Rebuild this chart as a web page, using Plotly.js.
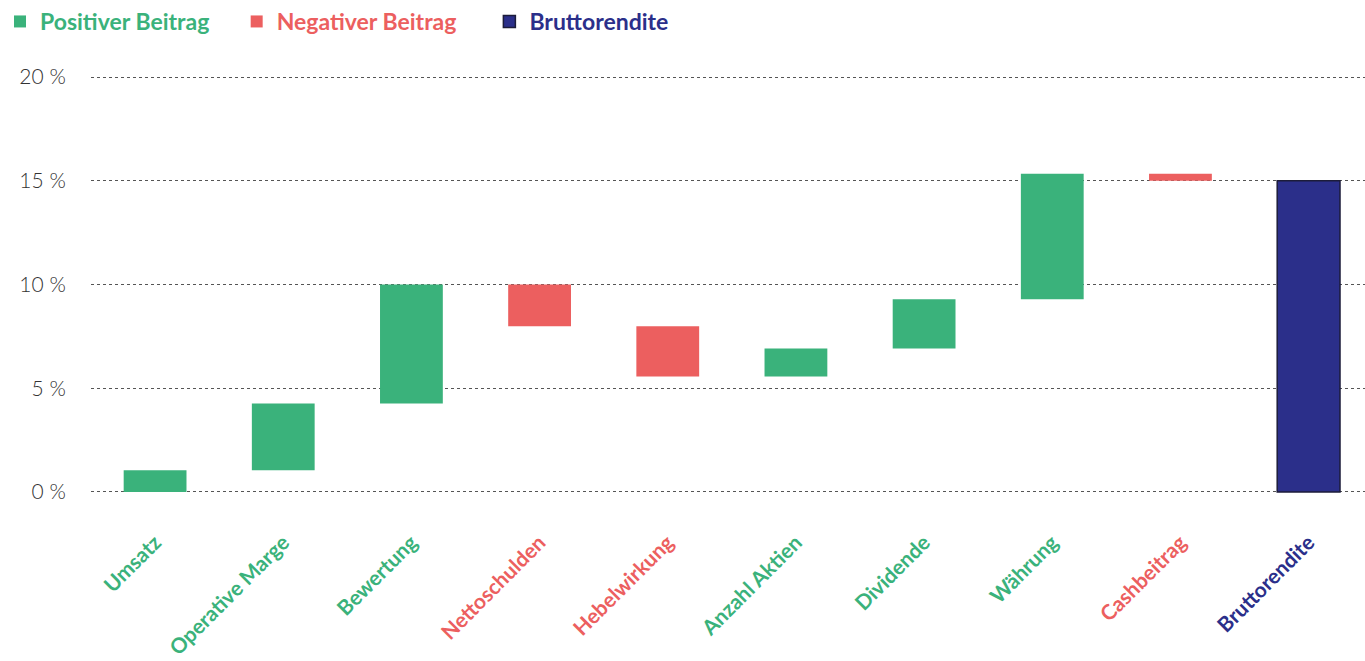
<!DOCTYPE html>
<html><head><meta charset="utf-8">
<script src="https://cdn.plot.ly/plotly-3.0.1.min.js"></script>
<style>html,body{margin:0;padding:0;background:#fff}#chart{width:1365px;height:661px}</style>
</head><body><div id="chart"></div>
<script>
const categories = ['Umsatz','Operative Marge','Bewertung','Nettoschulden','Hebelwirkung','Anzahl Aktien','Dividende','Währung','Cashbeitrag','Bruttorendite'];
const contributions = [1.05, 3.21, 5.74, -2.01, -2.42, 1.35, 2.37, 6.05, -0.34];
const totalLabel = 'Bruttorendite';
const yTickValues = [0, 5, 10, 15, 20];
const yTickLabels = ['0 %', '5 %', '10 %', '15 %', '20 %'];
const seriesNames = ['Positiver Beitrag', 'Negativer Beitrag', 'Bruttorendite'];
const colors = {pos: '#3ab27b', neg: '#ec5f5f', tot: '#2b2f8a'};

let run = 0;
const posX = [], posY = [], posB = [], negX = [], negY = [], negB = [];
const labelColors = [];
contributions.forEach((v, i) => {
  if (v >= 0) { posX.push(categories[i]); posY.push(v); posB.push(run); labelColors.push(colors.pos); }
  else { negX.push(categories[i]); negY.push(-v); negB.push(run + v); labelColors.push(colors.neg); }
  run += v;
});
labelColors.push(colors.tot);
const totalValue = run;

const tickText = categories.map((c, i) => `<b><span style="color:${labelColors[i]}">${c}</span></b>`);
const FONT = 'Lato, "Open Sans", sans-serif';
const PAD1 = '\u00a0'.repeat(4);
const PAD2 = '\u00a0'.repeat(5);

const traces = [
  {type: 'bar', x: posX, y: posY, base: posB, name: `<span style="color:${colors.pos}">${seriesNames[0]}${PAD1}</span>`,
   marker: {color: colors.pos, line: {width: 0}}, hoverinfo: 'skip'},
  {type: 'bar', x: negX, y: negY, base: negB, name: `<span style="color:${colors.neg}">${seriesNames[1]}${PAD2}</span>`,
   marker: {color: colors.neg, line: {width: 0}}, hoverinfo: 'skip'},
  {type: 'bar', x: [totalLabel], y: [totalValue], base: [0], name: `<span style="color:${colors.tot}">${seriesNames[2]}</span>`,
   marker: {color: colors.tot, line: {width: 1.5, color: '#1c1c3a'}}, hoverinfo: 'skip'}
];

const layout = {
  width: 1365, height: 661,
  paper_bgcolor: '#fff', plot_bgcolor: '#fff',
  margin: {l: 91, r: 0, t: 75, b: 167, pad: 0},
  barmode: 'overlay', bargap: 0.51,
  showlegend: true,
  legend: {orientation: 'h', xref: 'container', yref: 'container', x: 0, y: 1, xanchor: 'left', yanchor: 'top',
           font: {family: FONT, size: 23, weight: 'bold'}, itemclick: false, itemdoubleclick: false, traceorder: 'normal'},
  xaxis: {type: 'category', categoryorder: 'array', categoryarray: categories, range: [-0.5, 9.44],
          tickmode: 'array', tickvals: categories, ticktext: tickText,
          tickangle: -45, ticks: 'outside', ticklen: 27, tickcolor: 'rgba(0,0,0,0)', showgrid: false, zeroline: false,
          showline: false, tickfont: {family: FONT, size: 21, weight: 900}, fixedrange: true},
  yaxis: {range: [-0.1, 20.1], tickmode: 'array', tickvals: yTickValues, ticktext: yTickLabels, showgrid: true,
          gridcolor: '#555', griddash: 'dot', gridwidth: 1, zeroline: false, showline: false, ticks: 'outside',
          ticklen: 20, tickcolor: 'rgba(0,0,0,0)', tickfont: {family: FONT, size: 21, color: '#333', weight: 300}, fixedrange: true}
};

Plotly.newPlot('chart', traces, layout, {displayModeBar: false, staticPlot: true});
</script></body></html>
